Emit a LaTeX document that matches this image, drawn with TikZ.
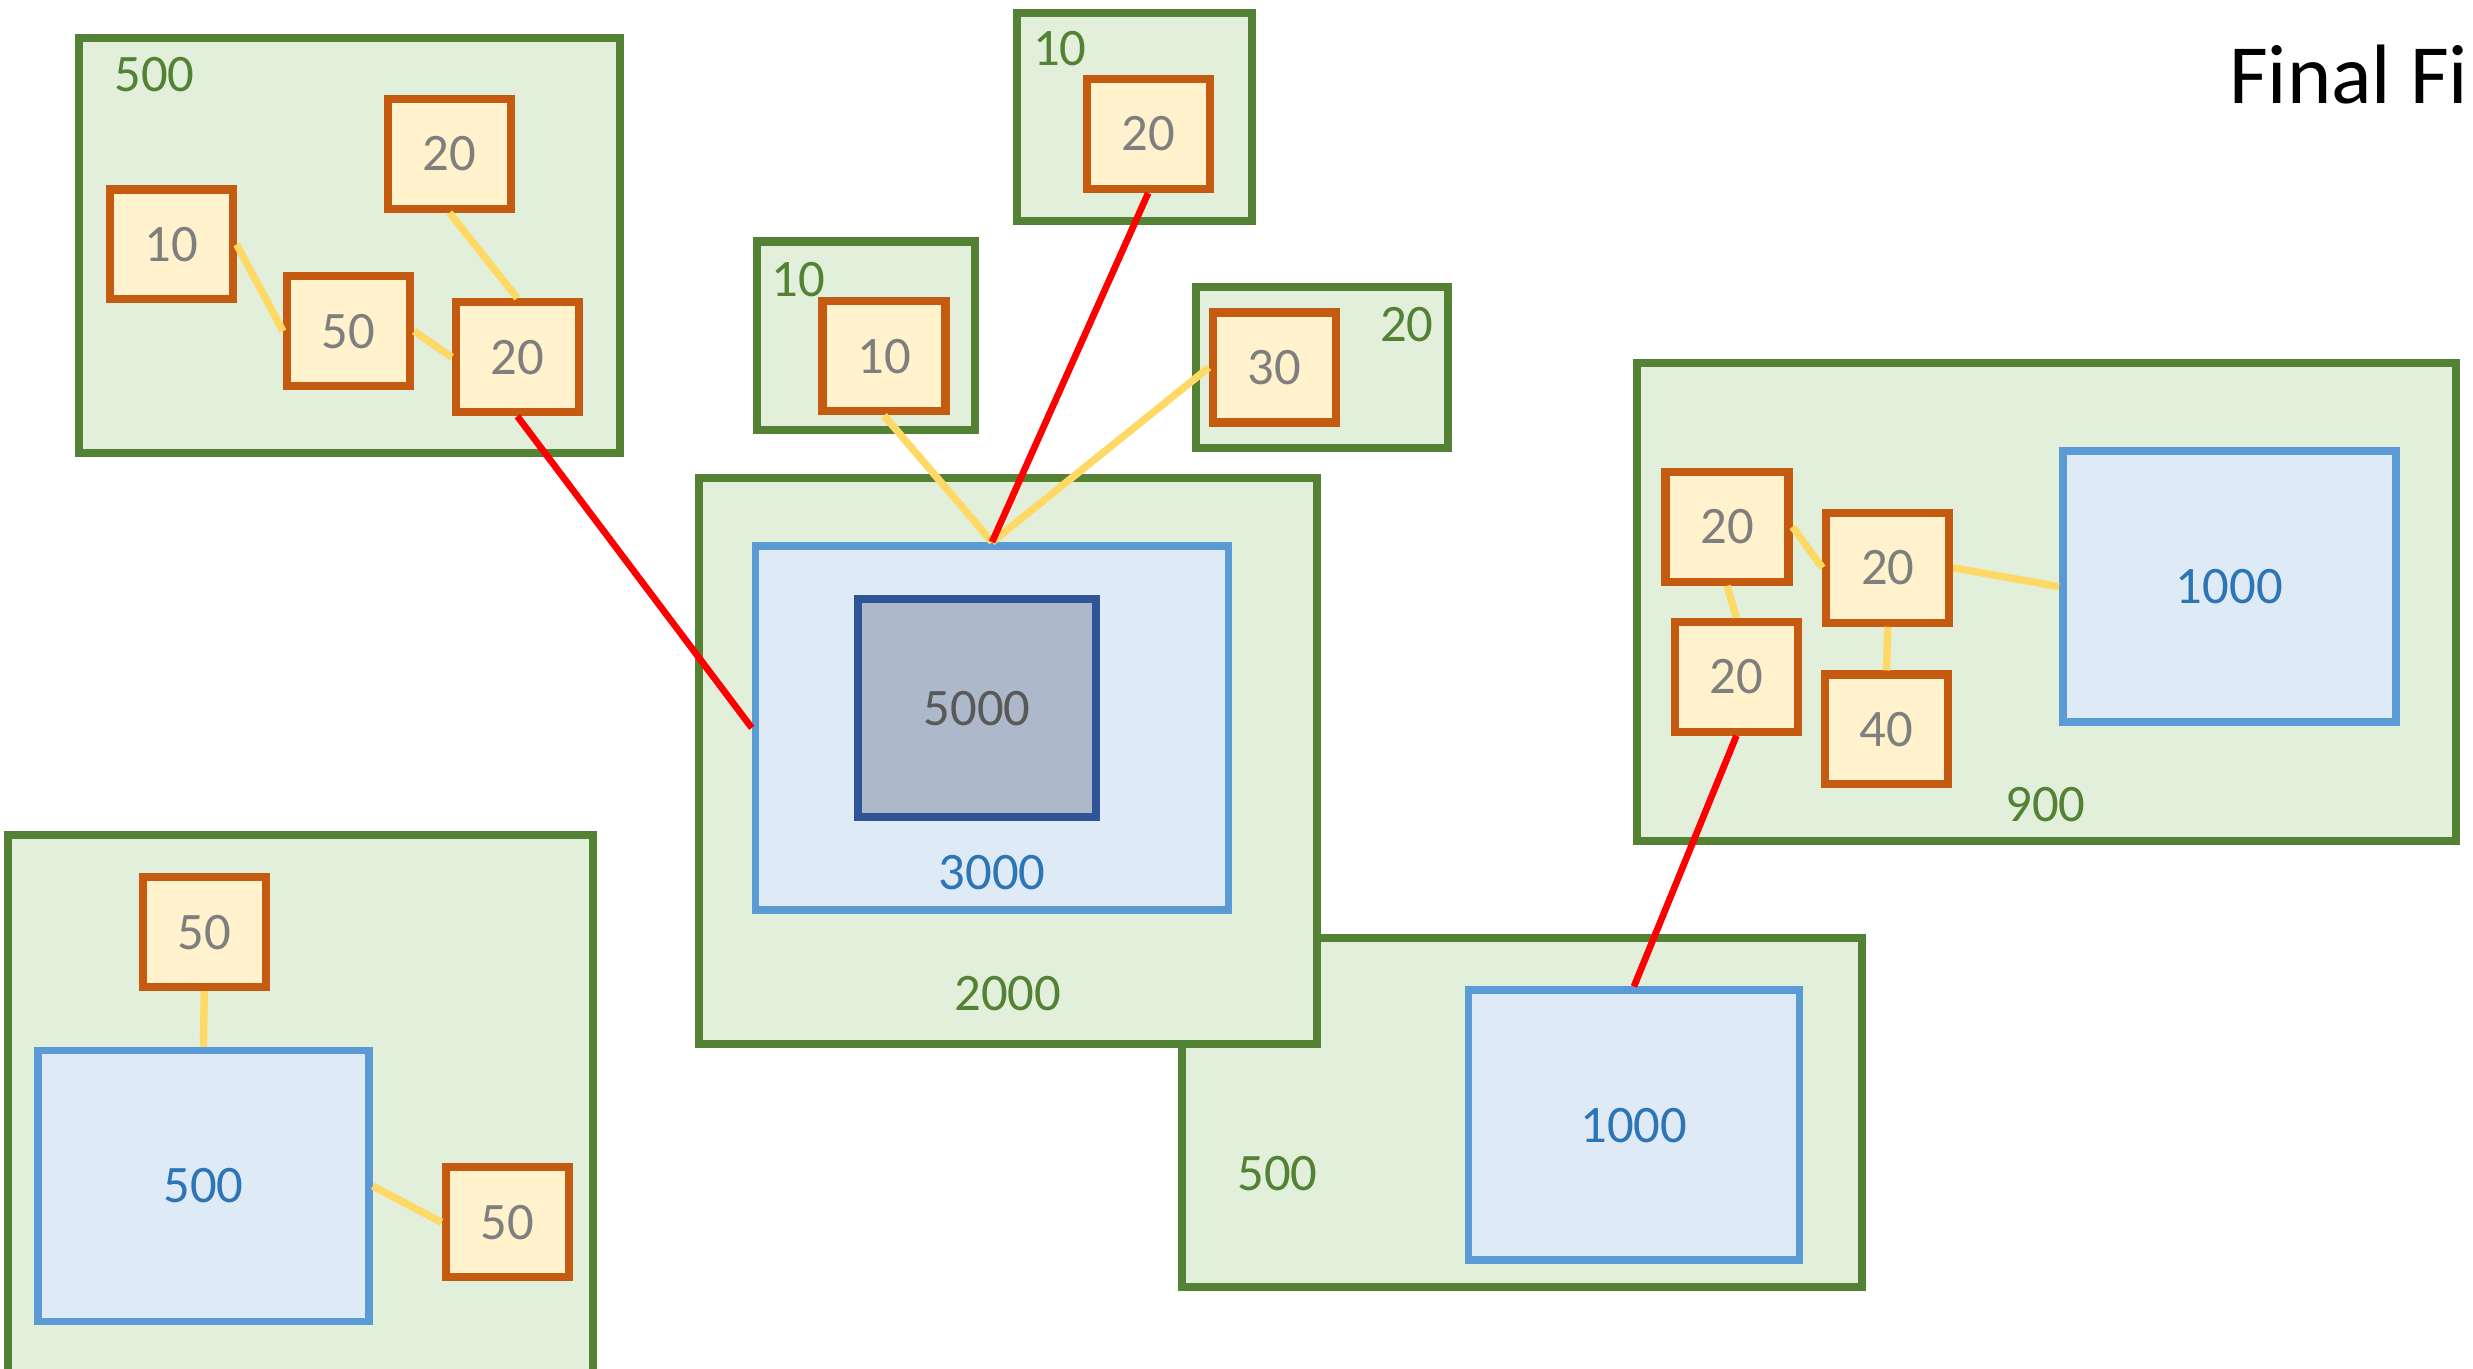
\documentclass[tikz,border=0pt]{standalone}
\usepackage{fontspec}
\setmainfont{Carlito}
\usetikzlibrary{positioning}
\definecolor{grpgreen}{HTML}{548235}
\definecolor{grpfill}{HTML}{E2EFDA}
\definecolor{itmorange}{HTML}{C55A11}
\definecolor{itmfill}{HTML}{FFF2CC}
\definecolor{itmtext}{HTML}{7F7F7F}
\definecolor{blkblue}{HTML}{5B9BD5}
\definecolor{blkfill}{HTML}{DEEBF7}
\definecolor{blktext}{HTML}{2E75B6}
\definecolor{coreblue}{HTML}{2F5597}
\definecolor{corefill}{HTML}{ADB9CA}
\definecolor{coretext}{HTML}{595959}
\definecolor{linkyellow}{HTML}{FFD966}

\begin{document}
\begin{tikzpicture}[x=0.015772cm, y=-0.015772cm,
    every node/.style={font=\fontsize{15}{18}\selectfont},
    group/.style={rectangle, draw=grpgreen, fill=grpfill, line width=2.3pt, inner sep=0pt},
    grplabel/.style={text=grpgreen, inner sep=0pt},
    item/.style={rectangle, draw=itmorange, fill=itmfill, line width=2.3pt,
      minimum width=1.23cm, minimum height=1.1cm, text=itmtext, inner sep=0pt},
    block/.style={rectangle, draw=blkblue, fill=blkfill, line width=2.2pt,
      text=blktext, inner sep=0pt},
    core/.style={rectangle, draw=coreblue, fill=corefill, line width=2.2pt,
      text=coretext, inner sep=0pt},
    link/.style={draw=linkyellow, line width=2.1pt},
    hot/.style={draw=red, line width=1.9pt}]

    \clip (0,0) rectangle (1568,868);

    % Groups
    \node[group, minimum width=5.41cm, minimum height=4.15cm] (grpA) at (221.5,155.5) {};
    \node[group, minimum width=6.81cm, minimum height=3.49cm] (grpG) at (965,705.5) {};
    \node[group, minimum width=6.18cm, minimum height=5.66cm] (grpB) at (639,482.5) {};
    \node[group, minimum width=2.18cm, minimum height=1.89cm] (grpC) at (549,213) {};
    \node[group, minimum width=2.35cm, minimum height=2.08cm] (grpD) at (719.5,74) {};
    \node[group, minimum width=2.52cm, minimum height=1.61cm] (grpE) at (838,233) {};
    \node[group, minimum width=8.19cm, minimum height=4.78cm] (grpF) at (1297.5,381.5) {};
    \node[group, minimum width=5.85cm, minimum height=5.45cm] (grpH) at (190.5,702) {};

    % Group labels
    \node[grplabel] (lblA) at (98,47) {500};
    \node[grplabel] (lblB) at (639,630) {2000};
    \node[grplabel] (lblC) at (506,177) {10};
    \node[grplabel] (lblD) at (672,31) {10};
    \node[grplabel] (lblE) at (892,206) {20};
    \node[grplabel] (lblF) at (1297,510) {900};
    \node[grplabel] (lblG) at (810,744) {500};

    % Blocks
    \node[block, minimum width=4.73cm, minimum height=3.64cm] (blkB) at (629,461.5) {};
    \node[text=blktext, inner sep=0pt] (lblBlkB) at (629,553) {3000};
    \node[core, minimum width=2.38cm, minimum height=2.18cm] (coreB) at (619.5,449) {5000};
    \node[block, minimum width=3.33cm, minimum height=2.71cm] (blkF) at (1413.5,372) {1000};
    \node[block, minimum width=3.31cm, minimum height=2.70cm] (blkG) at (1036,713.5) {1000};
    \node[block, minimum width=3.31cm, minimum height=2.71cm] (blkH) at (129,752) {500};

    % Items
    \node[item] (a10) at (108.5,155) {10};
    \node[item] (a20t) at (285,97.5) {20};
    \node[item] (a50) at (221,210) {50};
    \node[item] (a20) at (328,226.5) {20};
    \node[item] (c10) at (560.5,226) {10};
    \node[item] (d20) at (728,85) {20};
    \node[item] (e30) at (808,233) {30};
    \node[item] (f20a) at (1095,334) {20};
    \node[item] (f20b) at (1197,360) {20};
    \node[item] (f20c) at (1101,429) {20};
    \node[item] (f40) at (1196,462.5) {40};
    \node[item] (h50t) at (129.5,591) {50};
    \node[item] (h50r) at (321.5,775) {50};

    % Title
    \node[anchor=west, inner sep=0pt, font=\fontsize{24}{28}\selectfont] (title) at (1413,47) {Final Fi};

    % Links
    \draw[link] (a10.east) -- (a50.west);
    \draw[link] (a50.east) -- (a20.west);
    \draw[link] (a20t.south) -- (a20.north);
    \draw[link] (c10.south) -- (blkB.north);
    \draw[link] (e30.west) -- (blkB.north);
    \draw[link] (f20a.east) -- (f20b.west);
    \draw[link] (f20a.south) -- (f20c.north);
    \draw[link] (f20b.south) -- (f40.north);
    \draw[link] (f20b.east) -- (blkF.west);
    \draw[link] (h50t.south) -- (blkH.north);
    \draw[link] (blkH.east) -- (h50r.west);
    \draw[hot] (a20.south) -- (blkB.west);
    \draw[hot] (d20.south) -- (blkB.north);
    \draw[hot] (f20c.south) -- (blkG.north);
  \end{tikzpicture}
\end{document}
